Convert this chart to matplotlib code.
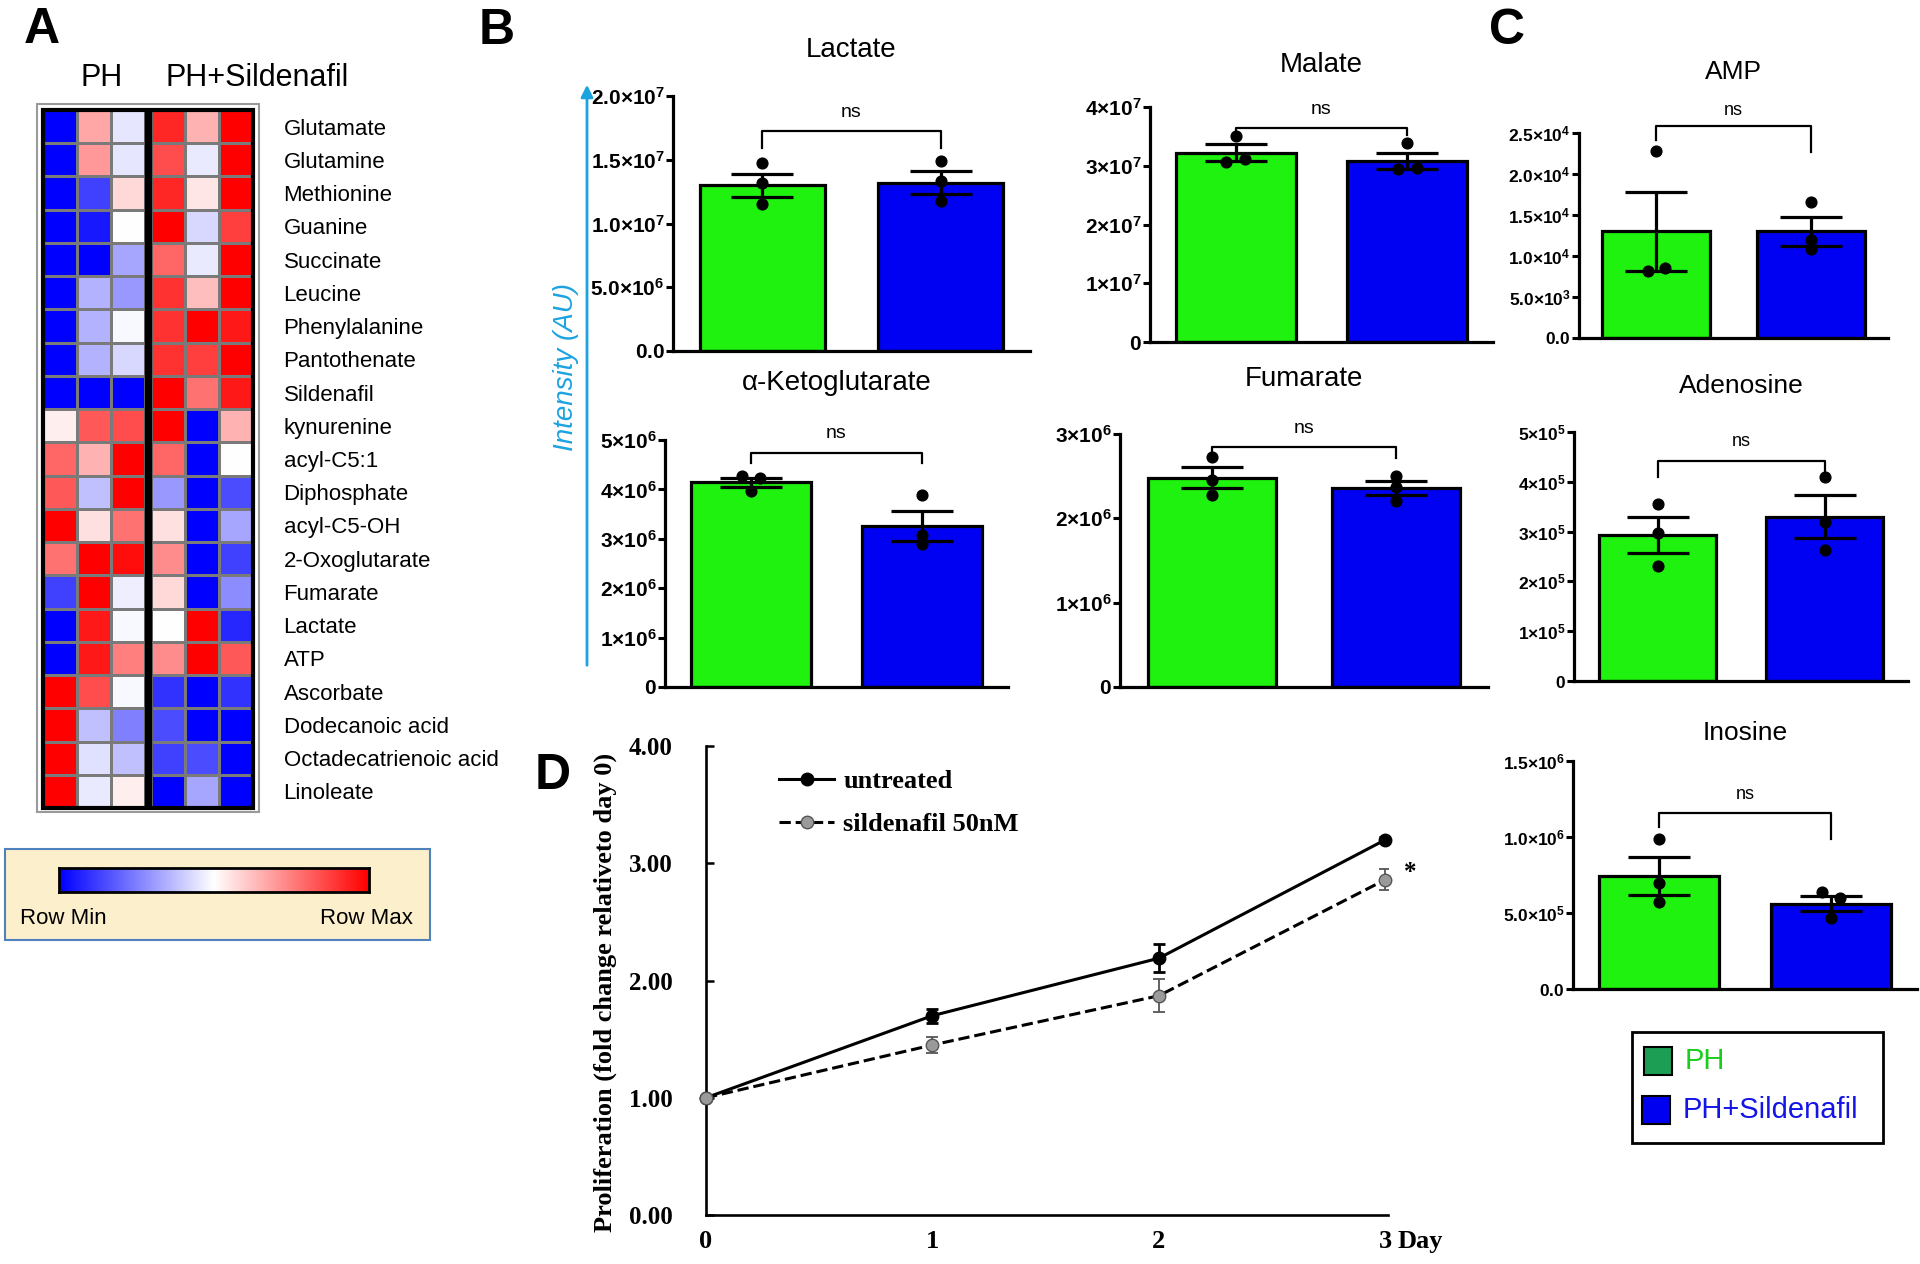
import numpy as np
import matplotlib
matplotlib.use("Agg")
import matplotlib.pyplot as plt
from matplotlib.colors import LinearSegmentedColormap
from matplotlib.patches import Rectangle

plt.rcParams["font.family"] = ["Liberation Sans", "DejaVu Sans"]
plt.rcParams["mathtext.fontset"] = "custom"
plt.rcParams["mathtext.rm"] = "Liberation Sans"
plt.rcParams["mathtext.bf"] = "Liberation Sans:bold"
plt.rcParams["axes.facecolor"] = "none"

# ---------------- data ----------------
metabolites = ["Glutamate", "Glutamine", "Methionine", "Guanine", "Succinate", "Leucine",
               "Phenylalanine", "Pantothenate", "Sildenafil", "kynurenine", "acyl-C5:1",
               "Diphosphate", "acyl-C5-OH", "2-Oxoglutarate", "Fumarate", "Lactate", "ATP",
               "Ascorbate", "Dodecanoic acid", "Octadecatrienoic acid", "Linoleate"]

# row-scaled values (-1 = row min, +1 = row max)
heat_ph = [[-1.0, 0.35, -0.10], [-1.0, 0.40, -0.10], [-1.0, -0.75, 0.15], [-1.0, -0.90, 0.0],
           [-1.0, -1.0, -0.35], [-1.0, -0.30, -0.40], [-1.0, -0.30, -0.03], [-1.0, -0.30, -0.15],
           [-1.0, -1.0, -1.0], [0.07, 0.65, 0.70], [0.60, 0.30, 1.0], [0.65, -0.25, 1.0],
           [1.0, 0.12, 0.55], [0.55, 1.0, 0.95], [-0.75, 1.0, -0.07], [-1.0, 0.90, -0.03],
           [-1.0, 0.90, 0.50], [1.0, 0.70, -0.03], [1.0, -0.25, -0.50], [1.0, -0.12, -0.25],
           [1.0, -0.08, 0.07]]
heat_sil = [[0.85, 0.30, 1.0], [0.70, -0.08, 1.0], [0.85, 0.10, 1.0], [1.0, -0.15, 0.75],
            [0.60, -0.08, 1.0], [0.80, 0.25, 1.0], [0.80, 1.0, 0.90], [0.80, 0.75, 1.0],
            [1.0, 0.55, 0.90], [1.0, -1.0, 0.30], [0.60, -1.0, 0.0], [-0.40, -1.0, -0.70],
            [0.12, -1.0, -0.35], [0.45, -1.0, -0.75], [0.15, -1.0, -0.45], [0.0, 1.0, -0.85],
            [0.45, 1.0, 0.65], [-0.80, -1.0, -0.80], [-0.70, -1.0, -1.0], [-0.75, -0.70, -1.0],
            [-1.0, -0.35, -1.0]]

groups = ["PH", "PH+Sildenafil"]

lactate_mean = [1.30e7, 1.32e7]
lactate_sem = [0.092e7, 0.09e7]
lactate_ph = [1.474e7, 1.32e7, 1.15e7]
lactate_sil = [1.49e7, 1.33e7, 1.18e7]

malate_mean = [3.22e7, 3.08e7]
malate_sem = [0.145e7, 0.13e7]
malate_ph = [3.51e7, 3.06e7, 3.11e7]
malate_sil = [3.39e7, 2.94e7, 2.96e7]

akg_mean = [4.14e6, 3.26e6]
akg_sem = [0.10e6, 0.30e6]
akg_ph = [4.27e6, 4.23e6, 3.97e6]
akg_sil = [3.89e6, 3.08e6, 2.90e6]

fumarate_mean = [2.48e6, 2.36e6]
fumarate_sem = [0.125e6, 0.085e6]
fumarate_ph = [2.73e6, 2.45e6, 2.28e6]
fumarate_sil = [2.50e6, 2.37e6, 2.21e6]

amp_mean = [1.30e4, 1.30e4]
amp_sem = [0.48e4, 0.175e4]
amp_ph = [2.28e4, 0.815e4, 0.853e4]
amp_sil = [1.66e4, 1.20e4, 1.08e4]

adenosine_mean = [2.93e5, 3.30e5]
adenosine_sem = [0.36e5, 0.43e5]
adenosine_ph = [3.55e5, 2.98e5, 2.31e5]
adenosine_sil = [4.09e5, 3.20e5, 2.63e5]

inosine_mean = [0.745e6, 0.56e6]
inosine_sem = [0.125e6, 0.05e6]
inosine_ph = [0.99e6, 0.70e6, 0.57e6]
inosine_sil = [0.638e6, 0.60e6, 0.467e6]


def sci(m, e):
    return r"$\mathbf{%s{\times}10^{%d}}$" % (m, e)

def plain(s):
    return r"$\mathbf{%s}$" % s

lactate_ticks = [0, 5e6, 1e7, 1.5e7, 2e7]
lactate_labels = [plain("0.0"), sci("5.0", 6), sci("1.0", 7), sci("1.5", 7), sci("2.0", 7)]
malate_ticks = [0, 1e7, 2e7, 3e7, 4e7]
malate_labels = [plain("0"), sci("1", 7), sci("2", 7), sci("3", 7), sci("4", 7)]
akg_ticks = [0, 1e6, 2e6, 3e6, 4e6, 5e6]
akg_labels = [plain("0"), sci("1", 6), sci("2", 6), sci("3", 6), sci("4", 6), sci("5", 6)]
fumarate_ticks = [0, 1e6, 2e6, 3e6]
fumarate_labels = [plain("0"), sci("1", 6), sci("2", 6), sci("3", 6)]
amp_ticks = [0, 5e3, 1e4, 1.5e4, 2e4, 2.5e4]
amp_labels = [plain("0.0"), sci("5.0", 3), sci("1.0", 4), sci("1.5", 4), sci("2.0", 4), sci("2.5", 4)]
adenosine_ticks = [0, 1e5, 2e5, 3e5, 4e5, 5e5]
adenosine_labels = [plain("0"), sci("1", 5), sci("2", 5), sci("3", 5), sci("4", 5), sci("5", 5)]
inosine_ticks = [0, 5e5, 1e6, 1.5e6]
inosine_labels = [plain("0.0"), sci("5.0", 5), sci("1.0", 6), sci("1.5", 6)]

# proliferation (panel D)
days = [0, 1, 2, 3]
day_labels = ["0", "1", "2", "3"]
untreated = [1.00, 1.70, 2.19, 3.20]
untreated_err = [0.0, 0.06, 0.12, 0.02]
sildenafil = [1.00, 1.45, 1.87, 2.86]
sildenafil_err = [0.0, 0.07, 0.14, 0.09]
prolif_ticks = [0, 1, 2, 3, 4]
prolif_labels = ["0.00", "1.00", "2.00", "3.00", "4.00"]

# ---------------- layout ----------------
W, H = 1920, 1264
fig = plt.figure(figsize=(W / 100, H / 100), dpi=100)

def box(l, t, r, b):
    return [l / W, 1 - b / H, (r - l) / W, (b - t) / H]

GREEN = "#1EF20E"
BLUE = "#0000F2"
SKY = "#1BA3E0"

# ---- panel A heatmap ----
cmap = LinearSegmentedColormap.from_list("bwr_row", ["#0000FF", "#FFFFFF", "#FF0000"])
axh = fig.add_axes(box(43, 110, 253, 808))
nrow = len(metabolites)
yedges = np.arange(nrow + 1)
axh.pcolormesh(np.arange(4), yedges, np.array(heat_ph), cmap=cmap, vmin=-1, vmax=1,
               edgecolors="#7a7a7a", linewidth=2)
axh.pcolormesh(np.arange(4) + 3.2, yedges, np.array(heat_sil), cmap=cmap, vmin=-1, vmax=1,
               edgecolors="#7a7a7a", linewidth=2)
axh.set_xlim(0, 6.2)
axh.set_ylim(nrow, 0)
axh.add_patch(Rectangle((3, 0), 0.2, nrow, color="black", zorder=5))
axh.add_patch(Rectangle((0, 0), 6.2, nrow, fill=False, ec="black", lw=3, zorder=6, clip_on=False))
axh.add_patch(Rectangle((-0.17, -0.17), 6.54, nrow + 0.3, fill=False, ec="#9a9a9a", lw=1.5,
                        zorder=6, clip_on=False))
for s in axh.spines.values():
    s.set_visible(False)
axh.set_xticks([])
axh.yaxis.tick_right()
axh.set_yticks(np.arange(nrow) + 0.5, metabolites, fontsize=16)
axh.tick_params(axis="y", length=0, pad=22)
axh.text(1.74, -0.96, groups[0], ha="center", va="center", fontsize=22)
axh.text(6.32, -0.96, groups[1], ha="center", va="center", fontsize=22)

# colour scale box
axg = fig.add_axes(box(59, 868, 369, 892))
axg.imshow(np.linspace(0, 1, 256)[None, :], aspect="auto", cmap=cmap, extent=(0, 1, 0, 1))
axg.set_xticks([])
axg.set_yticks([])
for s in axg.spines.values():
    s.set_linewidth(2)
    s.set_zorder(10)

# ---- bar panels ----
def bar_panel(rect, title, title_y, mean, sem, ph, sil, ticks, labels, bracket, ns_y,
              off_ph=(0, 0, 0), off_sil=(0, 0, 0), tfs=20, lfs=15, nsfs=14):
    l, t, r, b = rect
    ax = fig.add_axes(box(l, t, r, b))
    x = np.array([0, 1])
    ax.bar(x, mean, width=0.7, color=[GREEN, BLUE], edgecolor="black", linewidth=2.3, zorder=2)
    ax.errorbar(x, mean, yerr=sem, fmt="none", ecolor="black", elinewidth=2.3,
                capsize=22, capthick=2.3, zorder=3)
    ax.scatter(np.array(off_ph), ph, s=60, color="black", zorder=4, clip_on=False)
    ax.scatter(1 + np.array(off_sil), sil, s=60, color="black", zorder=4, clip_on=False)
    top, legl, legr = bracket
    ax.plot([0, 0, 1, 1], [legl, top, top, legr], color="black", lw=1.6, clip_on=False, zorder=5)
    ax.text(0.5, ns_y, "ns", ha="center", va="center", fontsize=nsfs)
    ax.set_xlim(-0.5, 1.5)
    ax.set_ylim(0, ticks[-1])
    ax.set_yticks(ticks, labels, fontsize=lfs)
    ax.set_xticks([])
    ax.tick_params(axis="y", length=5, width=2.2, pad=1)
    for s in ["top", "right"]:
        ax.spines[s].set_visible(False)
    for s in ["left", "bottom"]:
        ax.spines[s].set_linewidth(2.3)
    ax.text(0.5, (b - title_y) / (b - t), title, transform=ax.transAxes,
            ha="center", va="center", fontsize=tfs)
    return ax

bar_panel((673, 96, 1030, 351), "Lactate", 50, lactate_mean, lactate_sem, lactate_ph,
          lactate_sil, lactate_ticks, lactate_labels, (1.725e7, 1.59e7, 1.59e7), 1.87e7)
bar_panel((1150, 107, 1493, 342), "Malate", 65, malate_mean, malate_sem, malate_ph,
          malate_sil, malate_ticks, malate_labels, (3.64e7, 3.56e7, 3.52e7), 3.95e7,
          off_ph=(0, -0.055, 0.055), off_sil=(0, -0.055, 0.055))
bar_panel((665, 440, 1008, 687), "\u03b1-Ketoglutarate", 383, akg_mean, akg_sem, akg_ph,
          akg_sil, akg_ticks, akg_labels, (4.74e6, 4.53e6, 4.53e6), 5.14e6,
          off_ph=(-0.052, 0.052, 0))
bar_panel((1120, 434, 1488, 687), "Fumarate", 379, fumarate_mean, fumarate_sem, fumarate_ph,
          fumarate_sil, fumarate_ticks, fumarate_labels, (2.85e6, 2.77e6, 2.72e6), 3.07e6)
bar_panel((1579, 133, 1888, 338), "AMP", 72, amp_mean, amp_sem, amp_ph, amp_sil,
          amp_ticks, amp_labels, (2.58e4, 2.42e4, 2.27e4), 2.77e4,
          off_ph=(0, -0.054, 0.054), tfs=19, lfs=12.5, nsfs=13)
bar_panel((1574, 432, 1908, 681), "Adenosine", 386, adenosine_mean, adenosine_sem,
          adenosine_ph, adenosine_sil, adenosine_ticks, adenosine_labels,
          (4.41e5, 4.10e5, 4.18e5), 4.81e5, tfs=19, lfs=12.5, nsfs=13)
bar_panel((1573, 761, 1917, 989), "Inosine", 733, inosine_mean, inosine_sem, inosine_ph,
          inosine_sil, inosine_ticks, inosine_labels, (1.158e6, 1.066e6, 0.99e6), 1.28e6,
          off_sil=(-0.05, 0.05, 0), tfs=19, lfs=12.5, nsfs=13)

# ---- panel D ----
serif = {"family": "Liberation Serif", "weight": "bold"}
axd = fig.add_axes(box(706, 746, 1388, 1215))
axd.errorbar(days, untreated, yerr=untreated_err, fmt="none", ecolor="black", elinewidth=2,
             capsize=4, capthick=2, zorder=3)
axd.errorbar(days, sildenafil, yerr=sildenafil_err, fmt="none", ecolor="#555555",
             elinewidth=1.3, capsize=4, capthick=1.3, zorder=3)
axd.plot(days, untreated, "-o", color="black", lw=2.2, ms=9, mfc="black", mec="black",
         label="untreated", zorder=4, clip_on=False)
axd.plot(days, sildenafil, "--o", color="black", lw=2.2, ms=9, mfc="#9a9a9a", mec="#555555",
         label="sildenafil 50nM", zorder=5, clip_on=False)
axd.set_xlim(0, 3.012)
axd.set_ylim(0, 4)
axd.set_yticks(prolif_ticks, prolif_labels, fontdict={**serif, "size": 18})
axd.set_xticks(days, day_labels, fontdict={**serif, "size": 19})
axd.tick_params(axis="y", direction="in", length=6, width=1.8, pad=24)
axd.tick_params(axis="x", length=0, pad=11)
for s in ["top", "right"]:
    axd.spines[s].set_visible(False)
for s in ["left", "bottom"]:
    axd.spines[s].set_linewidth(1.9)
axd.set_ylabel("Proliferation (fold change relativeto day 0)", fontdict={**serif, "size": 19})
axd.yaxis.set_label_coords(-0.13, 0.475)
axd.annotate("Day", xy=(3, 0), xycoords="data", xytext=(9, -19), textcoords="offset points",
             ha="left", va="center", fontfamily="Liberation Serif", fontweight="bold", fontsize=19)
axd.text(3.11, 2.92, "*", ha="center", va="center", fontfamily="Liberation Serif",
         fontweight="bold", fontsize=18)
axd.legend(loc="upper left", bbox_to_anchor=(0.107, 0.949), frameon=False, borderpad=0,
           borderaxespad=0, handlelength=2.1, handletextpad=0.33, labelspacing=0.73,
           prop={"family": "Liberation Serif", "weight": "bold", "size": 19})

# ---- overlay: panel letters, axis arrow, legend boxes ----
ov = fig.add_axes([0, 0, 1, 1], zorder=-1)
ov.set_xlim(0, W)
ov.set_ylim(H, 0)
ov.axis("off")
for letter, (lx, ly) in zip("ABCD", [(42, 30), (497, 31), (1507, 31), (553, 776)]):
    ov.text(lx, ly, letter, ha="center", va="center", fontsize=36, fontweight="bold")

ov.annotate("", xy=(587, 82), xytext=(587, 668),
            arrowprops=dict(arrowstyle="-|>", color=SKY, lw=2, mutation_scale=18))
ov.text(566, 367, "Intensity (AU)", rotation=90, ha="center", va="center", color=SKY,
        fontsize=20, fontstyle="italic")

ov.add_patch(Rectangle((5, 849), 425, 91, facecolor="#FCEFCB", edgecolor="#4F81BD", lw=1.5))
ov.text(20, 918, "Row Min", ha="left", va="center", fontsize=16)
ov.text(413, 918, "Row Max", ha="right", va="center", fontsize=16)

ov.add_patch(Rectangle((1632, 1032), 251, 111, fill=False, edgecolor="black", lw=2))
ov.add_patch(Rectangle((1644, 1047), 28, 28, facecolor="#1C9E54", edgecolor="black", lw=1.5))
ov.add_patch(Rectangle((1642, 1096), 28, 28, facecolor="#0000F0", edgecolor="black", lw=1.5))
ov.text(1685, 1061, groups[0], ha="left", va="center", fontsize=21, color="#1ACD1A")
ov.text(1683, 1110, groups[1], ha="left", va="center", fontsize=21, color="#1414E6")

fig.savefig("out.png", dpi=100)
